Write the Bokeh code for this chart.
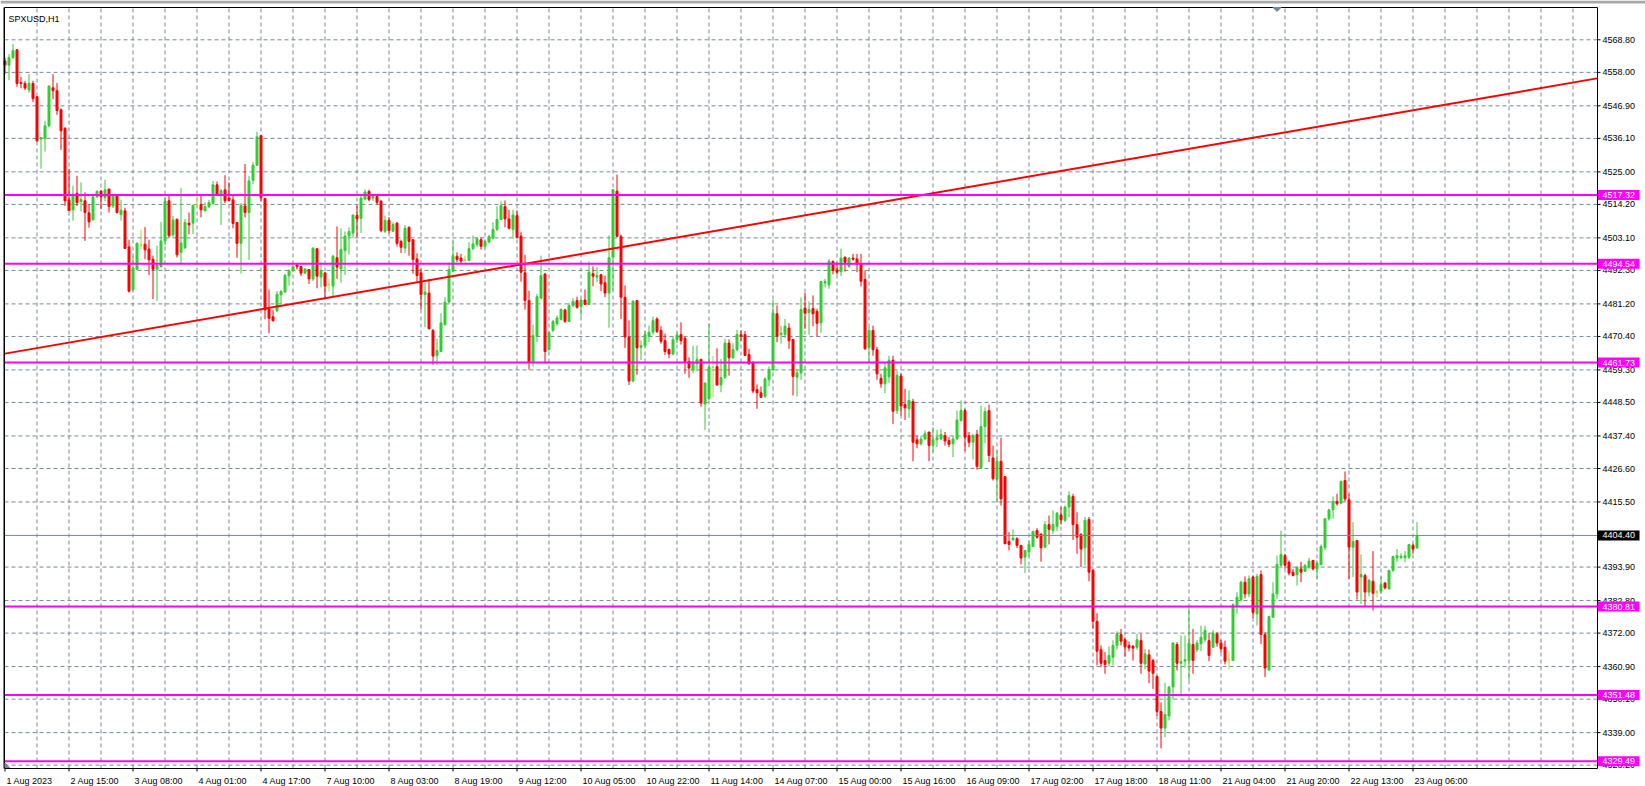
from bokeh.plotting import figure
from bokeh.models import ColumnDataSource, Range1d
from bokeh.embed import file_html
from bokeh.resources import INLINE
from bokeh.core.properties import value

# ---------------- data (SPXUSD, H1) ----------------
opens = [4561.8, 4560.4, 4562.9, 4565.5, 4554.6, 4554.3, 4552.2, 4554.3, 4549.9, 4535.9,
         4536.1, 4540.3, 4552.9, 4551.9, 4545.6, 4539.4, 4515.7, 4512.4, 4517.9, 4515.2,
         4515.4, 4511.4, 4509.1, 4516.7, 4518.6, 4516.5, 4519.3, 4513.7, 4517.3, 4510.8,
         4512.1, 4500.1, 4485.9, 4492.7, 4500.7, 4501.0, 4499.4, 4496.0, 4492.7, 4493.6,
         4502.1, 4515.4, 4504.1, 4509.3, 4498.3, 4499.8, 4508.0, 4508.0, 4514.1, 4514.1,
         4512.1, 4513.4, 4514.5, 4520.7, 4517.6, 4519.0, 4516.3, 4515.7, 4508.2, 4501.3,
         4513.7, 4511.5, 4522.2, 4527.2, 4537.0, 4516.2, 4479.5, 4476.9, 4478.9, 4484.2,
         4485.2, 4490.5, 4492.3, 4494.1, 4493.6, 4491.4, 4492.6, 4489.5, 4499.5, 4490.1,
         4491.5, 4487.6, 4487.1, 4496.5, 4492.8, 4498.9, 4503.7, 4504.7, 4510.5, 4509.6,
         4516.0, 4518.5, 4516.3, 4516.8, 4515.3, 4505.3, 4508.9, 4505.3, 4508.0, 4501.9,
         4499.7, 4506.6, 4502.5, 4496.1, 4491.5, 4484.3, 4484.8, 4472.4, 4464.1, 4465.4,
         4474.3, 4481.8, 4492.0, 4497.0, 4496.4, 4495.8, 4495.6, 4499.5, 4500.9, 4502.5,
         4500.3, 4501.7, 4503.0, 4505.9, 4509.2, 4513.5, 4509.4, 4505.9, 4510.5, 4503.7,
         4491.5, 4482.3, 4461.9, 4470.5, 4483.1, 4491.1, 4466.1, 4472.4, 4474.6, 4476.0,
         4479.2, 4475.4, 4480.7, 4482.3, 4480.4, 4482.5, 4481.0, 4491.2, 4490.1, 4490.9,
         4488.2, 4484.8, 4496.7, 4518.6, 4503.6, 4483.4, 4470.2, 4455.6, 4482.3, 4466.8,
         4467.4, 4470.5, 4471.8, 4476.2, 4472.4, 4469.0, 4466.1, 4464.6, 4469.4, 4471.0,
         4469.8, 4462.1, 4459.3, 4461.3, 4462.8, 4448.0, 4449.7, 4460.2, 4460.4, 4454.3,
         4456.9, 4468.2, 4463.3, 4466.0, 4471.0, 4471.0, 4464.4, 4461.6, 4452.8, 4451.7,
         4450.5, 4456.0, 4459.3, 4477.9, 4471.0, 4471.1, 4473.2, 4469.4, 4456.9, 4458.3,
         4479.8, 4478.4, 4479.6, 4478.7, 4474.9, 4488.1, 4487.5, 4495.3, 4492.5, 4491.9,
         4496.7, 4493.6, 4496.4, 4496.1, 4494.5, 4489.3, 4466.8, 4472.4, 4466.0, 4456.5,
         4454.7, 4457.0, 4462.5, 4445.8, 4457.3, 4447.8, 4446.4, 4448.8, 4436.1, 4434.8,
         4436.4, 4438.7, 4434.2, 4436.1, 4436.4, 4437.5, 4435.9, 4434.8, 4436.4, 4442.5,
         4445.8, 4437.5, 4435.3, 4437.9, 4426.8, 4440.5, 4445.8, 4430.1, 4423.0, 4429.0,
         4423.9, 4402.4, 4403.0, 4403.3, 4401.1, 4397.2, 4398.9, 4400.7, 4406.0, 4404.9,
         4400.5, 4408.0, 4406.0, 4407.4, 4411.2, 4409.4, 4413.8, 4417.3, 4408.0, 4404.7,
         4400.3, 4409.7, 4392.8, 4375.9, 4366.5, 4362.9, 4362.0, 4364.0, 4367.9, 4371.5,
         4369.8, 4367.9, 4367.7, 4367.3, 4369.5, 4361.8, 4364.8, 4362.9, 4357.6, 4346.0,
         4340.5, 4344.5, 4354.1, 4368.2, 4362.0, 4362.7, 4362.9, 4368.2, 4366.5, 4368.5,
         4369.8, 4369.5, 4367.3, 4371.7, 4368.7, 4367.3, 4363.2, 4362.9, 4381.1, 4383.1,
         4388.9, 4385.0, 4390.6, 4378.4, 4391.4, 4371.5, 4359.8, 4377.3, 4385.0, 4394.5,
         4397.7, 4395.5, 4392.2, 4391.4, 4393.3, 4392.5, 4393.9, 4396.1, 4393.3, 4394.8,
         4400.3, 4409.9, 4412.9, 4415.7, 4415.1, 4422.6, 4416.2, 4400.5, 4402.7, 4390.6,
         4391.1, 4385.6, 4389.2, 4385.6, 4385.9, 4388.6, 4386.7, 4392.8, 4396.9, 4397.0,
         4397.0, 4397.2, 4401.1, 4400.3]
highs = [4562.9, 4564.0, 4567.4, 4565.6, 4556.5, 4555.2, 4557.4, 4555.2, 4549.9, 4536.6,
         4541.9, 4553.5, 4557.4, 4554.5, 4546.0, 4539.9, 4525.9, 4520.4, 4523.7, 4521.5,
         4518.2, 4514.3, 4517.3, 4518.9, 4519.0, 4522.4, 4519.3, 4517.4, 4517.4, 4515.6,
         4513.1, 4502.5, 4497.2, 4501.6, 4505.8, 4506.7, 4502.5, 4497.2, 4500.5, 4508.4,
         4516.7, 4517.1, 4510.4, 4509.3, 4519.6, 4509.3, 4511.5, 4513.9, 4517.8, 4517.1,
         4514.8, 4515.7, 4522.0, 4521.8, 4519.3, 4523.9, 4521.5, 4517.4, 4508.2, 4514.6,
         4527.6, 4523.7, 4528.3, 4538.3, 4537.2, 4516.2, 4485.9, 4479.1, 4485.5, 4485.8,
         4491.1, 4492.7, 4494.8, 4494.8, 4493.6, 4493.2, 4492.6, 4500.0, 4499.5, 4495.0,
         4491.5, 4489.5, 4497.5, 4506.9, 4506.3, 4505.2, 4506.6, 4510.7, 4513.8, 4517.4,
         4519.1, 4519.1, 4517.4, 4517.7, 4515.5, 4510.5, 4510.0, 4508.3, 4508.3, 4502.5,
         4507.4, 4506.9, 4502.5, 4498.0, 4492.8, 4488.2, 4489.5, 4472.9, 4469.6, 4478.1,
         4483.4, 4495.0, 4501.9, 4498.3, 4497.8, 4497.2, 4501.7, 4503.9, 4503.3, 4503.3,
         4502.2, 4504.1, 4508.3, 4513.6, 4515.3, 4515.5, 4512.4, 4512.4, 4512.2, 4505.0,
         4497.5, 4485.6, 4474.3, 4484.5, 4497.2, 4491.5, 4472.0, 4475.9, 4477.3, 4479.8,
         4479.6, 4481.5, 4483.1, 4483.6, 4482.5, 4486.0, 4495.3, 4493.6, 4493.4, 4490.9,
         4490.6, 4503.9, 4519.1, 4524.1, 4504.2, 4487.3, 4475.7, 4482.3, 4482.3, 4469.1,
         4472.2, 4474.0, 4477.0, 4476.8, 4473.8, 4471.3, 4466.3, 4470.2, 4471.8, 4475.1,
         4470.2, 4463.5, 4467.4, 4467.4, 4463.0, 4455.2, 4474.6, 4463.9, 4466.5, 4463.0,
         4469.6, 4469.4, 4468.2, 4472.6, 4472.4, 4472.2, 4466.3, 4462.2, 4454.5, 4453.8,
         4456.9, 4460.5, 4482.5, 4480.7, 4474.0, 4476.2, 4474.8, 4469.6, 4459.6, 4483.4,
         4484.9, 4482.0, 4484.0, 4479.6, 4488.7, 4489.5, 4496.1, 4495.6, 4495.0, 4499.5,
         4496.9, 4496.7, 4497.8, 4497.8, 4497.8, 4492.3, 4473.5, 4474.0, 4467.0, 4458.0,
         4462.0, 4464.0, 4464.0, 4459.0, 4458.0, 4453.0, 4452.5, 4449.7, 4437.5, 4437.5,
         4439.2, 4438.7, 4440.3, 4439.4, 4439.8, 4438.7, 4437.0, 4437.5, 4445.8, 4449.2,
         4446.4, 4438.7, 4438.1, 4439.4, 4447.5, 4446.9, 4447.8, 4434.2, 4432.6, 4436.8,
         4424.0, 4405.5, 4406.4, 4403.8, 4401.1, 4399.6, 4402.7, 4406.0, 4406.8, 4404.9,
         4409.1, 4411.0, 4412.7, 4412.1, 4413.8, 4414.3, 4419.0, 4418.2, 4412.1, 4405.2,
         4410.5, 4410.5, 4393.3, 4378.6, 4367.9, 4365.7, 4367.6, 4369.6, 4372.6, 4373.4,
         4370.6, 4369.2, 4367.9, 4371.8, 4371.8, 4366.8, 4366.5, 4363.5, 4358.0, 4349.0,
         4355.5, 4354.5, 4369.0, 4369.0, 4371.2, 4371.2, 4380.6, 4373.4, 4369.6, 4374.5,
         4374.5, 4372.0, 4373.1, 4372.3, 4369.8, 4369.5, 4366.0, 4381.9, 4385.6, 4389.4,
         4390.8, 4391.1, 4391.1, 4391.7, 4392.8, 4372.3, 4377.8, 4388.9, 4397.7, 4406.0,
         4398.3, 4396.1, 4393.3, 4394.1, 4395.7, 4395.0, 4397.0, 4396.3, 4396.1, 4401.4,
         4410.2, 4413.2, 4417.3, 4418.2, 4422.6, 4425.6, 4418.2, 4408.8, 4402.9, 4398.1,
         4391.7, 4390.0, 4399.2, 4386.4, 4390.8, 4388.9, 4393.0, 4397.7, 4399.9, 4398.5,
         4399.2, 4401.6, 4401.6, 4408.8]
lows = [4557.4, 4555.4, 4562.4, 4553.2, 4552.7, 4552.1, 4551.3, 4548.2, 4534.9, 4526.1,
        4531.7, 4539.7, 4549.1, 4543.9, 4532.3, 4513.7, 4512.1, 4508.8, 4513.7, 4511.9,
        4502.1, 4506.5, 4508.8, 4516.3, 4512.6, 4515.2, 4511.5, 4513.0, 4511.2, 4508.8,
        4499.4, 4485.0, 4485.5, 4492.4, 4499.4, 4496.0, 4490.8, 4482.8, 4482.2, 4493.2,
        4500.5, 4503.2, 4503.5, 4496.6, 4494.3, 4499.4, 4504.3, 4504.4, 4513.3, 4509.9,
        4511.8, 4512.9, 4514.1, 4517.1, 4507.4, 4514.6, 4515.2, 4506.3, 4496.5, 4491.3,
        4509.9, 4495.8, 4520.9, 4527.0, 4515.2, 4476.1, 4471.4, 4475.4, 4478.4, 4481.1,
        4484.8, 4487.2, 4491.9, 4492.6, 4490.4, 4491.2, 4487.8, 4488.8, 4486.4, 4486.7,
        4482.7, 4485.3, 4483.4, 4489.5, 4488.2, 4490.8, 4497.5, 4503.0, 4503.3, 4504.7,
        4515.5, 4515.2, 4515.3, 4514.1, 4505.0, 4504.7, 4504.7, 4505.0, 4500.2, 4498.1,
        4498.0, 4497.2, 4491.2, 4488.6, 4479.3, 4473.5, 4472.9, 4461.0, 4461.0, 4465.2,
        4474.0, 4481.5, 4491.7, 4495.0, 4494.7, 4495.0, 4495.4, 4499.1, 4500.0, 4499.2,
        4500.0, 4501.3, 4502.6, 4505.3, 4509.1, 4506.6, 4505.9, 4502.8, 4503.0, 4488.6,
        4479.3, 4459.4, 4460.4, 4468.5, 4482.7, 4461.9, 4465.7, 4471.8, 4473.8, 4475.7,
        4474.9, 4475.1, 4480.1, 4479.6, 4477.0, 4481.0, 4481.0, 4487.0, 4488.4, 4485.4,
        4483.4, 4473.3, 4485.6, 4503.6, 4476.2, 4466.6, 4454.3, 4455.2, 4457.7, 4462.6,
        4466.8, 4468.5, 4471.0, 4471.6, 4468.0, 4464.3, 4463.2, 4464.1, 4468.2, 4467.7,
        4458.0, 4456.7, 4458.3, 4458.8, 4447.1, 4439.4, 4449.4, 4450.3, 4454.1, 4451.9,
        4456.3, 4457.4, 4463.0, 4465.5, 4468.8, 4463.9, 4461.1, 4451.6, 4446.4, 4450.2,
        4450.0, 4453.9, 4458.9, 4468.5, 4468.0, 4469.9, 4466.3, 4450.8, 4450.5, 4456.0,
        4472.9, 4471.0, 4473.8, 4470.4, 4471.6, 4486.7, 4486.2, 4491.0, 4491.0, 4490.4,
        4491.9, 4493.2, 4495.5, 4491.7, 4487.0, 4466.0, 4461.9, 4464.0, 4456.0, 4453.4,
        4451.6, 4455.0, 4441.4, 4444.7, 4444.2, 4442.7, 4443.4, 4429.0, 4433.3, 4434.2,
        4436.1, 4429.0, 4432.0, 4433.7, 4436.1, 4434.2, 4433.7, 4430.4, 4436.1, 4442.2,
        4432.4, 4433.7, 4429.6, 4426.2, 4426.5, 4435.0, 4428.7, 4422.6, 4415.4, 4414.3,
        4401.6, 4399.4, 4402.5, 4400.2, 4394.8, 4391.9, 4397.4, 4400.5, 4403.3, 4395.7,
        4400.3, 4401.4, 4404.9, 4405.8, 4408.0, 4408.8, 4410.5, 4402.9, 4398.3, 4393.9,
        4394.4, 4389.2, 4373.4, 4361.3, 4360.7, 4358.5, 4360.9, 4361.3, 4366.5, 4367.9,
        4364.2, 4366.0, 4362.9, 4366.5, 4358.5, 4360.0, 4355.4, 4353.5, 4344.5, 4333.8,
        4337.5, 4343.0, 4350.0, 4359.6, 4351.3, 4360.5, 4356.3, 4358.5, 4365.7, 4366.0,
        4369.0, 4362.7, 4367.1, 4367.5, 4365.5, 4361.6, 4359.9, 4362.7, 4378.4, 4382.5,
        4383.5, 4383.9, 4377.0, 4374.5, 4368.4, 4357.4, 4359.4, 4377.1, 4383.4, 4394.1,
        4393.4, 4391.1, 4390.8, 4387.8, 4388.9, 4392.2, 4393.3, 4392.8, 4390.0, 4394.4,
        4399.5, 4409.3, 4409.9, 4414.3, 4414.8, 4415.7, 4390.0, 4390.6, 4383.1, 4381.7,
        4380.9, 4384.2, 4379.5, 4383.7, 4385.0, 4386.5, 4386.4, 4392.2, 4395.5, 4396.5,
        4395.5, 4396.5, 4398.3, 4399.9]
closes = [4560.4, 4562.9, 4565.2, 4554.3, 4554.3, 4552.8, 4554.4, 4549.3, 4535.3, 4536.4,
          4540.3, 4553.5, 4551.9, 4545.3, 4538.6, 4515.4, 4512.1, 4517.6, 4514.8, 4515.8,
          4511.5, 4508.4, 4516.7, 4518.5, 4516.7, 4519.0, 4513.5, 4517.3, 4511.5, 4512.3,
          4499.6, 4485.4, 4493.1, 4501.3, 4500.7, 4499.1, 4495.8, 4492.7, 4494.1, 4502.1,
          4515.2, 4503.8, 4509.0, 4497.5, 4501.4, 4508.2, 4507.4, 4513.9, 4514.1, 4512.4,
          4513.5, 4514.8, 4520.7, 4517.4, 4518.7, 4515.4, 4515.5, 4507.9, 4501.3, 4513.9,
          4511.5, 4522.0, 4527.2, 4536.6, 4516.5, 4479.2, 4476.4, 4475.6, 4484.4, 4485.3,
          4490.7, 4492.2, 4493.6, 4493.5, 4491.4, 4492.8, 4489.5, 4499.7, 4490.4, 4492.0,
          4487.1, 4487.6, 4497.0, 4493.4, 4499.2, 4503.7, 4505.2, 4510.7, 4509.4, 4516.3,
          4518.3, 4515.8, 4516.8, 4514.9, 4505.5, 4508.9, 4505.5, 4507.5, 4501.3, 4500.0,
          4506.3, 4501.9, 4495.9, 4490.6, 4484.3, 4485.1, 4472.9, 4463.9, 4465.7, 4474.9,
          4481.8, 4492.6, 4497.2, 4495.9, 4495.4, 4495.8, 4499.5, 4501.1, 4502.8, 4500.3,
          4501.9, 4503.5, 4505.9, 4509.2, 4513.8, 4509.4, 4506.3, 4510.7, 4503.3, 4491.7,
          4482.3, 4461.9, 4470.7, 4483.6, 4490.6, 4465.4, 4471.6, 4475.4, 4476.5, 4479.3,
          4475.4, 4480.7, 4482.0, 4480.1, 4482.5, 4481.0, 4491.7, 4490.4, 4490.6, 4487.8,
          4484.8, 4496.5, 4519.1, 4503.6, 4483.4, 4470.2, 4455.6, 4482.1, 4466.6, 4467.4,
          4471.0, 4471.8, 4475.7, 4472.0, 4468.8, 4465.4, 4464.6, 4469.4, 4470.9, 4469.0,
          4462.1, 4459.9, 4461.9, 4462.8, 4448.3, 4454.9, 4460.2, 4460.2, 4454.3, 4456.7,
          4468.2, 4463.3, 4466.0, 4471.0, 4470.4, 4464.1, 4461.3, 4452.3, 4451.7, 4450.2,
          4456.3, 4459.4, 4478.2, 4470.5, 4471.5, 4473.8, 4469.0, 4457.1, 4458.3, 4479.3,
          4478.1, 4479.3, 4477.9, 4474.8, 4488.6, 4488.6, 4495.3, 4492.3, 4491.7, 4496.4,
          4495.0, 4496.4, 4496.0, 4494.3, 4488.7, 4466.3, 4472.4, 4466.0, 4458.0, 4454.7,
          4460.0, 4462.5, 4445.6, 4457.5, 4447.3, 4446.7, 4449.2, 4435.3, 4434.8, 4436.4,
          4438.1, 4434.2, 4436.1, 4436.8, 4437.9, 4435.7, 4434.6, 4436.4, 4442.7, 4445.8,
          4437.0, 4435.3, 4437.5, 4427.3, 4440.5, 4445.5, 4430.9, 4423.2, 4429.0, 4416.5,
          4401.6, 4401.4, 4403.5, 4401.1, 4396.9, 4399.4, 4401.4, 4405.7, 4403.8, 4400.3,
          4408.0, 4406.4, 4408.0, 4411.8, 4409.6, 4413.8, 4417.6, 4408.0, 4403.8, 4399.9,
          4409.4, 4392.2, 4375.9, 4366.0, 4362.0, 4361.6, 4364.6, 4367.9, 4371.8, 4369.3,
          4367.4, 4367.1, 4367.0, 4369.8, 4362.0, 4365.1, 4359.4, 4358.7, 4346.0, 4340.5,
          4345.0, 4354.1, 4368.7, 4362.0, 4362.6, 4363.2, 4368.7, 4362.9, 4368.7, 4370.6,
          4372.9, 4364.6, 4372.0, 4368.7, 4366.8, 4362.7, 4363.2, 4381.4, 4383.9, 4388.9,
          4385.0, 4390.0, 4378.9, 4390.8, 4371.5, 4360.4, 4377.5, 4385.0, 4394.8, 4398.1,
          4394.5, 4391.9, 4391.1, 4393.9, 4392.2, 4394.4, 4395.9, 4393.3, 4395.2, 4400.7,
          4409.9, 4412.9, 4415.7, 4414.9, 4422.3, 4416.5, 4400.5, 4402.4, 4385.6, 4391.4,
          4385.6, 4389.5, 4385.2, 4385.6, 4388.1, 4387.0, 4392.8, 4397.4, 4397.7, 4397.5,
          4397.7, 4401.4, 4399.9, 4404.4]

time_labels = ["1 Aug 2023", "2 Aug 15:00", "3 Aug 08:00", "4 Aug 01:00", "4 Aug 17:00",
               "7 Aug 10:00", "8 Aug 03:00", "8 Aug 19:00", "9 Aug 12:00", "10 Aug 05:00",
               "10 Aug 22:00", "11 Aug 14:00", "14 Aug 07:00", "15 Aug 00:00", "15 Aug 16:00",
               "16 Aug 09:00", "17 Aug 02:00", "17 Aug 18:00", "18 Aug 11:00", "21 Aug 04:00",
               "21 Aug 20:00", "22 Aug 13:00", "23 Aug 06:00"]
bars_per_label = 16
bars_per_grid = 8

price_ticks = [4568.80, 4558.00, 4546.90, 4536.10, 4525.00, 4514.20, 4503.10, 4492.30,
               4481.20, 4470.40, 4459.30, 4448.50, 4437.40, 4426.60, 4415.50, 4393.90,
               4382.80, 4372.00, 4360.90, 4350.10, 4339.00, 4328.20]

levels = [4517.32, 4494.54, 4461.73, 4380.81, 4351.48, 4329.49]
last_price = 4404.40

trend_bars = [0, 398]
trend_prices = [4464.7, 4556.0]

symbol = "SPXUSD,H1"

# ---------------- layout geometry (screen pixels) ----------------
W, H = 1645, 786
PX_PER_BAR = 4.0          # MT4 zoom level: 4 px per bar
BAR0_X = 4.5              # pixel centre of the first bar
PRICE_PER_PX = 0.3317     # vertical price scale
REF_PRICE, REF_Y = 4568.80, 39.3   # calibration: a price tick and its pixel row

def bx(px):   # pixel column -> bar coordinate
    return (px - BAR0_X) / PX_PER_BAR

def py(pix):  # pixel row -> price coordinate
    return REF_PRICE - (pix - REF_Y) * PRICE_PER_PX

L, R = bx(4), bx(1597)        # chart window edges
T, B = py(7), py(768)

FONT = value("Liberation Sans")
FS = "9px"
GRID = "#778899"
UP, DOWN, DOJI = "#32CD32", "#FF0000", "#9BE22A"
MAGENTA = "#FF00FF"

p = figure(width=W, height=H, x_range=Range1d(bx(0), bx(W)), y_range=Range1d(py(H), py(0)),
           x_axis_location=None, y_axis_location=None, output_backend="svg",
           toolbar_location=None, min_border=0, outline_line_color=None,
           background_fill_color="white", border_fill_color="white")
p.grid.visible = False

# window chrome strip at the very top
p.quad(left=[bx(0)], right=[bx(W)], top=[py(0)], bottom=[py(3)],
       fill_color="#A9A9A9", line_color=None)

# ---- grid ----
vgrid = [bars_per_grid * k for k in range(1, 60) if bars_per_grid * k < R]
p.segment(x0=vgrid, x1=vgrid, y0=[B] * len(vgrid), y1=[T] * len(vgrid),
          line_color=GRID, line_width=1, line_dash="4 3")
p.segment(x0=[L] * len(price_ticks), x1=[R] * len(price_ticks), y0=price_ticks, y1=price_ticks,
          line_color=GRID, line_width=1, line_dash="4 3")

# ---- candles ----
n = len(closes)
colors = [UP if c > o else (DOWN if c < o else DOJI) for o, c in zip(opens, closes)]
src = ColumnDataSource(dict(
    x=list(range(n)),
    top=[max(o, c) for o, c in zip(opens, closes)],
    bottom=[min(o, c) for o, c in zip(opens, closes)],
    high=highs, low=lows, color=colors))
p.segment(x0="x", y0="low", x1="x", y1="high", source=src, line_color="color", line_width=1)
p.vbar(x="x", width=0.5, top="top", bottom="bottom", source=src,
       fill_color="color", line_color="color", line_width=1)

# ---- trend line and horizontal levels ----
p.line(trend_bars, trend_prices, line_color="#FF0000", line_width=2)
p.segment(x0=[L] * len(levels), x1=[R] * len(levels), y0=levels, y1=levels,
          line_color=MAGENTA, line_width=2)
p.segment(x0=[L], x1=[R], y0=[last_price], y1=[last_price], line_color=GRID, line_width=1)

# ---- chart window border ----
p.quad(left=[L], right=[R], top=[T], bottom=[B], fill_color=None,
       line_color="black", line_width=1)
p.segment(x0=[bx(3.5)], x1=[bx(3.5)], y0=[B], y1=[T], line_color="black", line_width=1)

# ---- price scale (right) ----
p.segment(x0=[R] * len(price_ticks), x1=[bx(1600)] * len(price_ticks),
          y0=price_ticks, y1=price_ticks, line_color="black", line_width=1)
p.text(x=[bx(1602)] * len(price_ticks), y=price_ticks, text=[f"{t:.2f}" for t in price_ticks],
       text_font=FONT, text_font_size=FS, text_color="black",
       text_align="left", text_baseline="middle")

# ---- time scale (bottom) ----
tick_bars = [bars_per_label * k for k in range(len(time_labels))]
p.segment(x0=tick_bars, x1=tick_bars, y0=[B] * len(tick_bars), y1=[py(771)] * len(tick_bars),
          line_color="black", line_width=1)
p.text(x=[b + bx(6) - bx(4.5) for b in tick_bars], y=[py(780.5)] * len(tick_bars),
       text=time_labels, text_font=FONT, text_font_size=FS, text_color="black",
       text_align="left", text_baseline="alphabetic")

# ---- price tags ----
tag_prices = levels + [last_price]
tag_fill = [MAGENTA] * len(levels) + ["black"]
half = 5 * PRICE_PER_PX
p.quad(left=[bx(1597.5)] * len(tag_prices), right=[bx(1639)] * len(tag_prices),
       top=[v + half for v in tag_prices], bottom=[v - half for v in tag_prices],
       fill_color=tag_fill, line_color=None)
p.text(x=[bx(1602)] * len(tag_prices), y=tag_prices, text=[f"{v:.2f}" for v in tag_prices],
       text_font=FONT, text_font_size=FS, text_color="white",
       text_align="left", text_baseline="middle")

# ---- symbol title ----
p.text(x=[bx(8)], y=[py(18.5)], text=[symbol], text_font=FONT, text_font_size=FS,
       text_color="black", text_align="left", text_baseline="alphabetic")

# ---- chart-shift marker at the top, scale marker bottom-left ----
p.patch(x=[bx(1272.5), bx(1280.5), bx(1276.5)], y=[py(7), py(7), py(11)],
        fill_color=GRID, line_color=GRID, line_width=1)
p.patch(x=[bx(4.5), bx(4.5), bx(9)], y=[py(762.5), py(767), py(767)],
        fill_color=GRID, line_color=GRID, line_width=1)

open("out.html", "w").write(file_html(p, INLINE))
